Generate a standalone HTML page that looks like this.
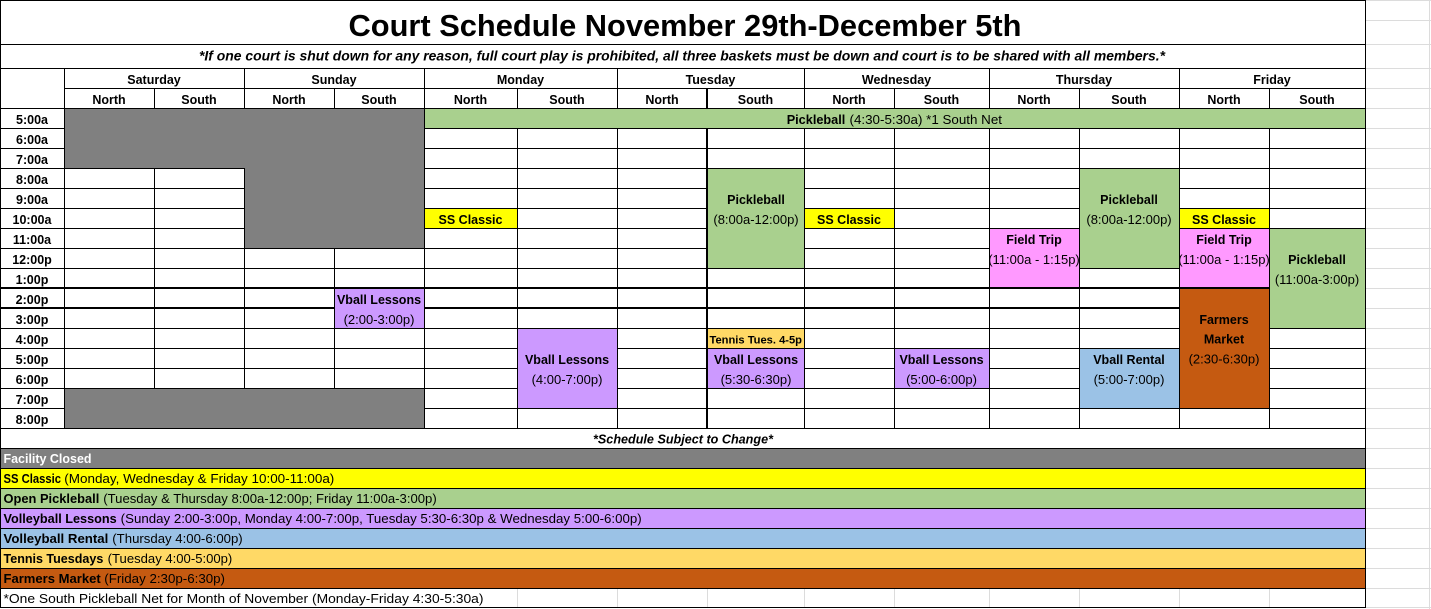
<!DOCTYPE html>
<html>
<head>
<meta charset="utf-8">
<style>
  html,body{margin:0;padding:0;background:#fff;}
  body{width:1431px;height:609px;overflow:hidden;}
  svg{display:block;}
  text{font-family:"Liberation Sans", Arial, sans-serif;fill:#000;}
  .b{font-weight:bold;font-size:12.5px;}
  .r{font-weight:normal;font-size:13px;}
  .t{font-weight:bold;font-size:12.5px;}
</style>
</head>
<body>
<svg width="1431" height="609" viewBox="0 0 1431 609" xmlns="http://www.w3.org/2000/svg" shape-rendering="crispEdges">
  <rect x="0" y="0" width="1431" height="609" fill="#fff"/>

  <!-- spreadsheet gridlines to the right -->
  <path stroke="#dcdcdc" stroke-width="1" fill="none" d="
    M1366 0.5H1431 M1366 20.5H1431 M1366 44.5H1431 M1366 68.5H1431 M1366 88.5H1431
    M1366 108.5H1431 M1366 128.5H1431 M1366 148.5H1431 M1366 168.5H1431 M1366 188.5H1431
    M1366 208.5H1431 M1366 228.5H1431 M1366 248.5H1431 M1366 268.5H1431 M1366 288.5H1431
    M1366 308.5H1431 M1366 328.5H1431 M1366 348.5H1431 M1366 368.5H1431 M1366 388.5H1431
    M1366 408.5H1431 M1366 428.5H1431 M1366 448.5H1431 M1366 468.5H1431 M1366 488.5H1431
    M1366 508.5H1431 M1366 528.5H1431 M1366 548.5H1431 M1366 568.5H1431 M1366 588.5H1431
    M1366 607.5H1431 M1429.5 0V609
    M517.5 589V607 M617.5 589V607 M707.5 589V607 M804.5 589V607 M894.5 589V607
    M989.5 589V607 M1079.5 589V607 M1179.5 589V607 M1269.5 589V607"/>

  <!-- black grid lines -->
  <path stroke="#000" stroke-width="1" fill="none" d="
    M0 0.5H1366 M0 44.5H1366 M0 68.5H1366 M64 88.5H1366 M0 108.5H1366
    M0 128.5H1366 M0 148.5H1366 M0 168.5H1366 M0 188.5H1366 M0 208.5H1366
    M0 228.5H1366 M0 248.5H1366 M0 268.5H1366
    M0 328.5H1366 M0 348.5H1366 M0 368.5H1366 M0 388.5H1366 M0 408.5H1366 M0 428.5H1366
    M0 448.5H1366 M0 468.5H1366 M0 488.5H1366 M0 508.5H1366 M0 528.5H1366
    M0 548.5H1366 M0 568.5H1366 M0 588.5H1366 M0 607.5H1366
    M0.5 0V608 M1365.5 0V608
    M64.5 68V429 M154.5 88V429 M244.5 68V429 M334.5 88V429 M424.5 68V429
    M517.5 88V429 M617.5 68V429 M804.5 68V429 M894.5 88V429 M989.5 68V429
    M1079.5 88V429 M1179.5 68V429 M1269.5 88V429"/>
  <rect x="0" y="287" width="1366" height="2" fill="#000"/>
  <rect x="0" y="307" width="1366" height="2" fill="#000"/>
  <rect x="706" y="88" width="2" height="341" fill="#000"/>

  <!-- closed (gray) -->
  <rect x="65" y="109" width="359" height="59" fill="#808080"/>
  <rect x="245" y="109" width="179" height="139" fill="#808080"/>
  <rect x="65" y="389" width="359" height="39" fill="#808080"/>

  <!-- pickleball green -->
  <rect x="425" y="109" width="940" height="19" fill="#A9D08E"/>
  <rect x="708" y="169" width="96" height="99" fill="#A9D08E"/>
  <rect x="1080" y="169" width="99" height="99" fill="#A9D08E"/>
  <rect x="1270" y="229" width="95" height="99" fill="#A9D08E"/>

  <!-- SS Classic yellow -->
  <rect x="425" y="209" width="92" height="19" fill="#FFFF00"/>
  <rect x="805" y="209" width="89" height="19" fill="#FFFF00"/>
  <rect x="1180" y="209" width="89" height="19" fill="#FFFF00"/>

  <!-- Field trip pink -->
  <rect x="990" y="229" width="89" height="58" fill="#FF99FF"/>
  <rect x="1180" y="229" width="89" height="58" fill="#FF99FF"/>

  <!-- Vball lessons purple -->
  <rect x="335" y="289" width="89" height="39" fill="#CC99FF"/>
  <rect x="518" y="329" width="99" height="79" fill="#CC99FF"/>
  <rect x="708" y="349" width="96" height="39" fill="#CC99FF"/>
  <rect x="895" y="349" width="94" height="39" fill="#CC99FF"/>

  <!-- tennis -->
  <rect x="708" y="329" width="96" height="19" fill="#FFD966"/>
  <!-- vball rental -->
  <rect x="1080" y="349" width="99" height="59" fill="#9BC2E6"/>
  <!-- farmers market -->
  <rect x="1180" y="289" width="89" height="119" fill="#C55A11"/>

  <!-- legend fills -->
  <rect x="1" y="449" width="1364" height="19" fill="#808080"/>
  <rect x="1" y="469" width="1364" height="19" fill="#FFFF00"/>
  <rect x="1" y="489" width="1364" height="19" fill="#A9D08E"/>
  <rect x="1" y="509" width="1364" height="19" fill="#CC99FF"/>
  <rect x="1" y="529" width="1364" height="19" fill="#9BC2E6"/>
  <rect x="1" y="549" width="1364" height="19" fill="#FFD966"/>
  <rect x="1" y="569" width="1364" height="19" fill="#C55A11"/>

  <!-- Title -->
  <text x="348.5" y="36" font-size="31" font-weight="bold" textLength="673" lengthAdjust="spacingAndGlyphs">Court Schedule November 29th-December 5th</text>
  <text x="199" y="60.5" font-size="13.5" font-weight="bold" font-style="italic" textLength="966" lengthAdjust="spacingAndGlyphs">*If one court is shut down for any reason, full court play is prohibited, all three baskets must be down and court is to be shared with all members.*</text>

  <g text-anchor="middle">
    <text class="b" x="154" y="84">Saturday</text>
    <text class="b" x="334" y="84">Sunday</text>
    <text class="b" x="520.5" y="84">Monday</text>
    <text class="b" x="710.5" y="84">Tuesday</text>
    <text class="b" x="896.5" y="84">Wednesday</text>
    <text class="b" x="1084" y="84">Thursday</text>
    <text class="b" x="1272" y="84">Friday</text>

    <text class="b" x="109" y="104">North</text>
    <text class="b" x="199" y="104">South</text>
    <text class="b" x="289" y="104">North</text>
    <text class="b" x="379" y="104">South</text>
    <text class="b" x="470.5" y="104">North</text>
    <text class="b" x="567" y="104">South</text>
    <text class="b" x="662" y="104">North</text>
    <text class="b" x="755.5" y="104">South</text>
    <text class="b" x="849" y="104">North</text>
    <text class="b" x="941.5" y="104">South</text>
    <text class="b" x="1034" y="104">North</text>
    <text class="b" x="1129" y="104">South</text>
    <text class="b" x="1224" y="104">North</text>
    <text class="b" x="1317" y="104">South</text>

    <!-- times -->
    <text class="t" x="32" y="124">5:00a</text>
    <text class="t" x="32" y="144">6:00a</text>
    <text class="t" x="32" y="164">7:00a</text>
    <text class="t" x="32" y="184">8:00a</text>
    <text class="t" x="32" y="204">9:00a</text>
    <text class="t" x="32" y="224">10:00a</text>
    <text class="t" x="32" y="244">11:00a</text>
    <text class="t" x="32" y="264">12:00p</text>
    <text class="t" x="32" y="284">1:00p</text>
    <text class="t" x="32" y="304">2:00p</text>
    <text class="t" x="32" y="324">3:00p</text>
    <text class="t" x="32" y="344">4:00p</text>
    <text class="t" x="32" y="364">5:00p</text>
    <text class="t" x="32" y="384">6:00p</text>
    <text class="t" x="32" y="404">7:00p</text>
    <text class="t" x="32" y="424">8:00p</text>

    <!-- SS Classic cells -->
    <text class="b" x="470.5" y="224">SS Classic</text>
    <text class="b" x="849" y="224">SS Classic</text>
    <text class="b" x="1224" y="224">SS Classic</text>

    <!-- Tuesday S pickleball -->
    <text class="b" x="756" y="204">Pickleball</text>
    <text class="r" x="756" y="224">(8:00a-12:00p)</text>
    <!-- Thursday S pickleball -->
    <text class="b" x="1129" y="204">Pickleball</text>
    <text class="r" x="1129" y="224">(8:00a-12:00p)</text>
    <!-- Friday S pickleball -->
    <text class="b" x="1317" y="264">Pickleball</text>
    <text class="r" x="1317" y="284">(11:00a-3:00p)</text>

    <!-- Field trips -->
    <text class="b" x="1034" y="244">Field Trip</text>
    <text class="r" x="1034" y="264">(11:00a - 1:15p)</text>
    <text class="b" x="1224" y="244">Field Trip</text>
    <text class="r" x="1224" y="264">(11:00a - 1:15p)</text>

    <!-- Vball lessons -->
    <text class="b" x="379" y="304">Vball Lessons</text>
    <text class="r" x="379" y="324">(2:00-3:00p)</text>
    <text class="b" x="567" y="364">Vball Lessons</text>
    <text class="r" x="567" y="384">(4:00-7:00p)</text>
    <text class="b" x="756" y="364">Vball Lessons</text>
    <text class="r" x="756" y="384">(5:30-6:30p)</text>
    <text class="b" x="941.5" y="364">Vball Lessons</text>
    <text class="r" x="941.5" y="384">(5:00-6:00p)</text>

    <!-- Vball rental -->
    <text class="b" x="1129" y="364">Vball Rental</text>
    <text class="r" x="1129" y="384">(5:00-7:00p)</text>

    <!-- Farmers market -->
    <text class="b" x="1224" y="324">Farmers</text>
    <text class="b" x="1224" y="343.5">Market</text>
    <text class="r" x="1224" y="363.5">(2:30-6:30p)</text>
  </g>

  <!-- Tennis -->
  <text x="709.5" y="343.7" font-size="11" font-weight="bold" textLength="92.5" lengthAdjust="spacingAndGlyphs">Tennis Tues. 4-5p</text>

  <!-- Banner -->
  <text x="786.7" y="124" font-size="13" font-weight="bold" textLength="58.6" lengthAdjust="spacingAndGlyphs">Pickleball</text>
  <text x="849.5" y="124" font-size="13" textLength="152.5" lengthAdjust="spacingAndGlyphs">(4:30-5:30a) *1 South Net</text>

  <!-- Schedule subject to change -->
  <text x="593" y="443.5" font-size="13" font-weight="bold" font-style="italic" textLength="180" lengthAdjust="spacingAndGlyphs">*Schedule Subject to Change*</text>

  <!-- Legend -->
  <text x="3.5" y="463" font-size="13" font-weight="bold" style="fill:#fff" textLength="88" lengthAdjust="spacingAndGlyphs">Facility Closed</text>

  <text x="3.5" y="483" font-size="13" font-weight="bold" textLength="57.5" lengthAdjust="spacingAndGlyphs">SS Classic</text>
  <text x="64.3" y="483" font-size="13" textLength="270" lengthAdjust="spacingAndGlyphs">(Monday, Wednesday &amp; Friday 10:00-11:00a)</text>

  <text x="3.5" y="503" font-size="13" font-weight="bold" textLength="95.8" lengthAdjust="spacingAndGlyphs">Open Pickleball</text>
  <text x="103.3" y="503" font-size="13" textLength="333.4" lengthAdjust="spacingAndGlyphs">(Tuesday &amp; Thursday 8:00a-12:00p; Friday 11:00a-3:00p)</text>

  <text x="3.5" y="523" font-size="13" font-weight="bold" textLength="113.2" lengthAdjust="spacingAndGlyphs">Volleyball Lessons</text>
  <text x="120.7" y="523" font-size="13" textLength="521" lengthAdjust="spacingAndGlyphs">(Sunday 2:00-3:00p, Monday 4:00-7:00p, Tuesday 5:30-6:30p &amp; Wednesday 5:00-6:00p)</text>

  <text x="3.5" y="543" font-size="13" font-weight="bold" textLength="104.8" lengthAdjust="spacingAndGlyphs">Volleyball Rental</text>
  <text x="112.3" y="543" font-size="13" textLength="130.4" lengthAdjust="spacingAndGlyphs">(Thursday 4:00-6:00p)</text>

  <text x="3.5" y="563" font-size="13" font-weight="bold" textLength="99.8" lengthAdjust="spacingAndGlyphs">Tennis Tuesdays</text>
  <text x="107.7" y="563" font-size="13" textLength="124.6" lengthAdjust="spacingAndGlyphs">(Tuesday 4:00-5:00p)</text>

  <text x="3.5" y="583" font-size="13" font-weight="bold" textLength="97.2" lengthAdjust="spacingAndGlyphs">Farmers Market</text>
  <text x="104.3" y="583" font-size="13" textLength="120.7" lengthAdjust="spacingAndGlyphs">(Friday 2:30p-6:30p)</text>

  <text x="3.5" y="603" font-size="13" textLength="480" lengthAdjust="spacingAndGlyphs">*One South Pickleball Net for Month of November (Monday-Friday 4:30-5:30a)</text>
</svg>
</body>
</html>
